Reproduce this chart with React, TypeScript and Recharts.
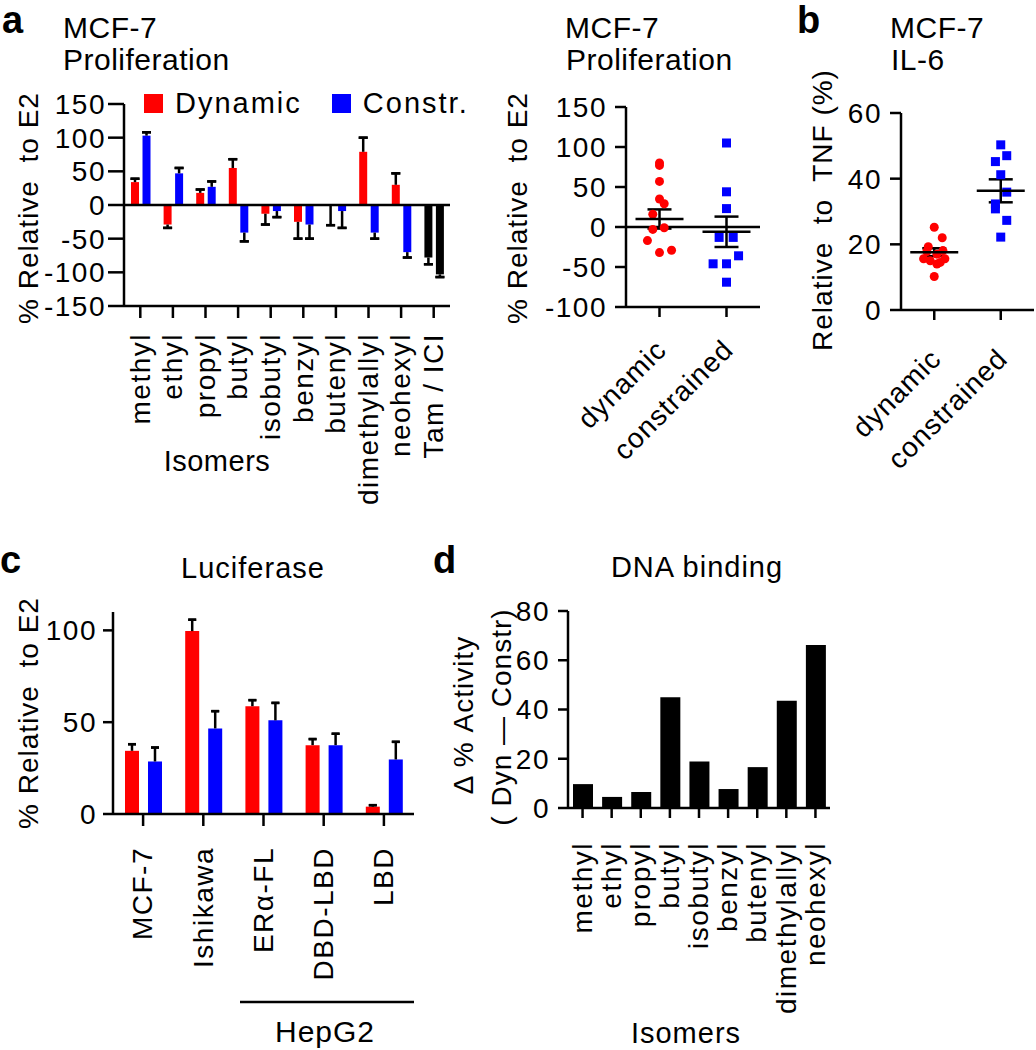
import React from 'react';
import {
  BarChart, Bar, XAxis, YAxis, Cell, ErrorBar, ReferenceLine, Legend,
  ScatterChart, Scatter,
} from 'recharts';

const FONT = "'Liberation Sans', Arial, Helvetica, sans-serif";
const RED = '#ff0000';
const BLUE = '#0000ff';
const BLACK = '#000000';

// a: proliferation per isomer (last group = Tam / ICI controls)
const isomers = ['methyl', 'ethyl', 'propyl', 'butyl', 'isobutyl', 'benzyl', 'butenyl', 'dimethylallyl', 'neohexyl', 'Tam / ICI'];
const prolifDynamic = [34, -29, 18, 55, -13, -25, -1, 79, 30, -78];
const prolifDynamicErr = [5, 5, 5, 13, 16, 25, 29, 21, 17, 10];
const prolifConstr = [103, 47, 27, -41, -9, -29, -9, -41, -70, -103];
const prolifConstrErr = [5, 8, 8, 13, 9, 21, 25, 9, 8, 4];
const prolifTicks = [-150, -100, -50, 0, 50, 100, 150];
const legendOrder = ['Dynamic', 'Constr.'];

// a: pooled proliferation
const groups = ['dynamic', 'constrained'];
const pooledDynamic = [80, 77, 57, 35, 29, 16, -1, -3, -17, -32, -29];
const pooledDynamicJitter = [0, 0, 0, 0, 0.07, -0.1, 0.07, -0.1, -0.18, 0, 0.18];
const pooledConstr = [105, 44, 23, -13, -13, -36, -46, -46, -69];
const pooledConstrJitter = [0, 0, 0, -0.11, 0.1, 0.18, -0.2, 0, 0];
const pooledMean = [10, -6];
const pooledSem = [12, 19];
const pooledTicks = [-100, -50, 0, 50, 100, 150];

// b: IL-6
const il6Dynamic = [25.2, 22, 19.3, 18.1, 17.8, 17, 15.6, 15.6, 15, 14.5, 14, 10.2];
const il6DynamicJitter = [0, 0.12, -0.09, 0.13, -0.11, 0.04, -0.16, 0.16, -0.06, 0.09, 0.04, 0];
const il6Constr = [50.3, 47, 45.2, 41.2, 35.9, 32.3, 30.8, 27.3, 22.2];
const il6ConstrJitter = [0, 0.09, -0.08, 0, 0.09, -0.08, -0.08, 0.09, 0];
const il6Mean = [17.6, 36.3];
const il6Sem = [1.2, 3.5];
const il6Ticks = [0, 20, 40, 60];

// c: luciferase
const lucCells = ['MCF-7', 'Ishikawa', 'ERα-FL', 'DBD-LBD', 'LBD'];
const lucDynamic = [34.4, 99.6, 58.7, 37.5, 4];
const lucDynamicErr = [3.6, 6.2, 3.3, 3.3, 0.8];
const lucConstr = [28.6, 46.6, 51, 37.5, 29.7];
const lucConstrErr = [7.6, 9.4, 9.5, 6.2, 9.6];
const lucTicks = [0, 50, 100];

// d: DNA binding
const dnaIsomers = isomers.slice(0, 9);
const dnaDelta = [9.7, 4.5, 6.5, 45, 18.9, 7.7, 16.6, 43.6, 66.2];
const dnaTicks = [0, 20, 40, 60, 80];

// one-sided error bars: a plain line away from zero, plus a cap at its end
const errLine = (v: number, e: number) => (v >= 0 ? [0, e] : [e, 0]);
const errCap = (v: number, e: number) => (v >= 0 ? [-e, e] : [e, -e]);

const prolifData = isomers.map((name, i) => ({
  name,
  dynamic: prolifDynamic[i],
  dLine: errLine(prolifDynamic[i], prolifDynamicErr[i]),
  dCap: errCap(prolifDynamic[i], prolifDynamicErr[i]),
  constr: prolifConstr[i],
  cLine: errLine(prolifConstr[i], prolifConstrErr[i]),
  cCap: errCap(prolifConstr[i], prolifConstrErr[i]),
}));

const lucData = lucCells.map((name, i) => ({
  name,
  dynamic: lucDynamic[i],
  dLine: errLine(lucDynamic[i], lucDynamicErr[i]),
  dCap: errCap(lucDynamic[i], lucDynamicErr[i]),
  constr: lucConstr[i],
  cLine: errLine(lucConstr[i], lucConstrErr[i]),
  cCap: errCap(lucConstr[i], lucConstrErr[i]),
}));

const dnaData = dnaIsomers.map((name, i) => ({ name, delta: dnaDelta[i] }));

const points = (ys: number[], jitter: number[], group: number) =>
  ys.map((y, i) => ({ x: group + jitter[i], y }));
const means = (m: number[], s: number[]) => m.map((y, i) => ({ x: i + 1, y, sem: s[i] }));

const line = { stroke: BLACK, strokeWidth: 2.5 };
const tickText = { fontSize: 28, fill: BLACK, letterSpacing: 1.5 };

const VerticalTick = ({ x, y, payload, offset }: any) => (
  <text
    x={x} y={y + offset} dy="0.33em" textAnchor="end" fontSize={28} fill={BLACK} letterSpacing={1.5}
    transform={`rotate(-90, ${x}, ${y + offset})`}
  >
    {payload.value}
  </text>
);

const SlantTick = ({ x, y, payload, offset }: any) => (
  <text
    x={x + 2} y={y + offset} dy="0.33em" textAnchor="end" fontSize={28} fill={BLACK} letterSpacing={1}
    transform={`rotate(-45, ${x + 2}, ${y + offset})`}
  >
    {groups[payload.value - 1]}
  </text>
);

const Dot = ({ cx, cy }: any) => <circle cx={cx} cy={cy} r={4.5} fill={RED} />;
const Square = ({ cx, cy }: any) => <rect x={cx - 4.5} y={cy - 4.5} width={9} height={9} fill={BLUE} />;
const MeanLine = ({ cx, cy }: any) => <line x1={cx - 24} x2={cx + 24} y1={cy} y2={cy} {...line} />;

const renderLegend = ({ payload }: any) => {
  const items = [...payload].sort((a: any, b: any) => legendOrder.indexOf(a.value) - legendOrder.indexOf(b.value));
  return (
    <div style={{ display: 'flex', alignItems: 'center', lineHeight: '33px' }}>
      {items.map((p: any) => (
        <div key={p.value} style={{ display: 'flex', alignItems: 'center', marginRight: 30 }}>
          <span style={{ width: 19, height: 19, background: p.color, marginRight: 12 }} />
          <span style={{ fontSize: 29, letterSpacing: 2, color: BLACK }}>{p.value}</span>
        </div>
      ))}
    </div>
  );
};

const barErrors = (lineKey: string, capKey: string, cap: number) => [
  <ErrorBar key="l" dataKey={lineKey} width={0} stroke={BLACK} strokeWidth={2.5} direction="y" />,
  <ErrorBar key="c" dataKey={capKey} width={cap} stroke={BLACK} strokeWidth={2.5} direction="y" />,
];

function ScatterPanel({ left, width, top, yAxisWidth, xAxisHeight, height, right, domain, ticks, red, blue, avg, zero, labelOffset }: any) {
  return (
    <div style={{ position: 'absolute', left, top: 0 }}>
      <ScatterChart width={width} height={height} margin={{ top, right, bottom: 0, left: 0 }}>
        <XAxis
          type="number" dataKey="x" domain={[0.5, 2.5]} ticks={[1, 2]} interval={0}
          height={xAxisHeight} tickSize={10} axisLine={line} tickLine={line}
          tick={(p: any) => <SlantTick {...p} offset={labelOffset} />}
        />
        <YAxis
          type="number" dataKey="y" domain={domain} ticks={ticks} interval={0}
          width={yAxisWidth} tickSize={11} tickMargin={8} axisLine={line} tickLine={line} tick={tickText}
        />
        {zero && <ReferenceLine y={0} {...line} />}
        <Scatter data={red} shape={<Dot />} isAnimationActive={false} />
        <Scatter data={blue} shape={<Square />} isAnimationActive={false} />
        <Scatter data={avg} shape={<MeanLine />} isAnimationActive={false}>
          <ErrorBar dataKey="sem" width={12} stroke={BLACK} strokeWidth={2.5} direction="y" />
        </Scatter>
      </ScatterChart>
    </div>
  );
}

const T = ({ x, y, children, size = 30, anchor = 'start', bold = false, rot = 0, ls = 0.5 }: any) => (
  <text
    x={0} y={0} fontSize={size} textAnchor={anchor} fontWeight={bold ? 'bold' : 'normal'} letterSpacing={ls}
    fill={BLACK} style={{ whiteSpace: 'pre' }}
    transform={`translate(${x},${y})${rot ? ` rotate(${rot})` : ''}`}
  >
    {children}
  </text>
);

export default function App() {
  return (
    <div style={{ position: 'absolute', left: 0, top: 0, width: 1036, height: 1050, background: '#fff', fontFamily: FONT }}>
      {/* a: per-isomer bars */}
      <div style={{ position: 'absolute', left: 0, top: 0 }}>
        <BarChart width={470} height={540} data={prolifData} margin={{ top: 104, right: 20, bottom: 0, left: 0 }} barSize={8} barGap={3.5}>
          <XAxis
            dataKey="name" height={234} tickSize={12} interval={0} axisLine={line} tickLine={line}
            tick={(p: any) => <VerticalTick {...p} offset={13} />}
          />
          <YAxis
            domain={[-150, 150]} ticks={prolifTicks} interval={0} width={124}
            tickSize={16} tickMargin={2} axisLine={line} tickLine={line} tick={tickText}
          />
          <ReferenceLine y={0} {...line} />
          <Bar dataKey="dynamic" name="Dynamic" fill={RED} isAnimationActive={false}>
            {prolifData.map((d, i) => <Cell key={d.name} fill={i === 9 ? BLACK : RED} />)}
            {barErrors('dLine', 'dCap', 4.5)}
          </Bar>
          <Bar dataKey="constr" name="Constr." fill={BLUE} isAnimationActive={false}>
            {prolifData.map((d, i) => <Cell key={d.name} fill={i === 9 ? BLACK : BLUE} />)}
            {barErrors('cLine', 'cCap', 4.5)}
          </Bar>
          <Legend
            content={renderLegend} layout="horizontal" verticalAlign="middle" align="center"
            wrapperStyle={{ top: 87, left: 144, width: 'auto' }}
          />
        </BarChart>
      </div>

      {/* a: pooled scatter */}
      <ScatterPanel
        left={480} width={300} height={540} top={107} right={20} yAxisWidth={146} xAxisHeight={233}
        domain={[-100, 150]} ticks={pooledTicks} zero labelOffset={26}
        red={points(pooledDynamic, pooledDynamicJitter, 1)}
        blue={points(pooledConstr, pooledConstrJitter, 2)}
        avg={means(pooledMean, pooledSem)}
      />

      {/* b: IL-6 scatter */}
      <ScatterPanel
        left={760} width={276} height={540} top={113} right={2} yAxisWidth={141} xAxisHeight={230}
        domain={[0, 60]} ticks={il6Ticks} zero={false} labelOffset={32}
        red={points(il6Dynamic, il6DynamicJitter, 1)}
        blue={points(il6Constr, il6ConstrJitter, 2)}
        avg={means(il6Mean, il6Sem)}
      />

      {/* c: luciferase */}
      <div style={{ position: 'absolute', left: 0, top: 560 }}>
        <BarChart width={440} height={480} data={lucData} margin={{ top: 52, right: 26, bottom: 0, left: 0 }} barSize={14} barGap={9}>
          <XAxis
            dataKey="name" height={226} tickSize={12} interval={0} axisLine={line} tickLine={line}
            tick={(p: any) => <VerticalTick {...p} offset={19} />}
          />
          <YAxis
            domain={[0, 110]} ticks={lucTicks} interval={0} width={113}
            tickSize={10} tickMargin={6} axisLine={line} tickLine={line} tick={tickText}
          />
          <Bar dataKey="dynamic" fill={RED} isAnimationActive={false}>
            {barErrors('dLine', 'dCap', 4)}
          </Bar>
          <Bar dataKey="constr" fill={BLUE} isAnimationActive={false}>
            {barErrors('cLine', 'cCap', 4)}
          </Bar>
        </BarChart>
      </div>

      {/* d: DNA binding */}
      <div style={{ position: 'absolute', left: 440, top: 560 }}>
        <BarChart width={420} height={480} data={dnaData} margin={{ top: 51, right: 30, bottom: 0, left: 0 }} barSize={20}>
          <XAxis
            dataKey="name" height={232} tickSize={10} interval={0} axisLine={line} tickLine={line}
            tick={(p: any) => <VerticalTick {...p} offset={22} />}
          />
          <YAxis
            domain={[0, 80]} ticks={dnaTicks} interval={0} width={128}
            tickSize={10} tickMargin={8} axisLine={line} tickLine={line} tick={tickText}
          />
          <Bar dataKey="delta" fill={BLACK} isAnimationActive={false} />
        </BarChart>
      </div>

      {/* titles and axis labels */}
      <svg width={1036} height={1050} style={{ position: 'absolute', left: 0, top: 0, pointerEvents: 'none', overflow: 'visible' }}>
        <T x={2} y={33} size={38} bold ls={0}>a</T>
        <T x={63} y={37.5}>MCF-7</T>
        <T x={63} y={70}>Proliferation</T>
        <T x={38} y={208} size={28} anchor="middle" rot={-90} ls={1}>{'% Relative  to E2'}</T>
        <T x={217} y={471} size={29} anchor="middle">Isomers</T>

        <T x={565} y={37.5}>MCF-7</T>
        <T x={566} y={70}>Proliferation</T>
        <T x={527} y={208} size={28} anchor="middle" rot={-90} ls={1}>{'% Relative  to E2'}</T>

        <T x={797} y={33} size={38} bold ls={0}>b</T>
        <T x={890} y={37.5}>MCF-7</T>
        <T x={891} y={70}>IL-6</T>
        <T x={832} y={210} size={28} anchor="middle" rot={-90} ls={1}>{'Relative  to  TNF (%)'}</T>

        <T x={0} y={573} size={38} bold ls={0}>c</T>
        <T x={253} y={578} size={29} anchor="middle" ls={1}>Luciferase</T>
        <T x={38} y={713} size={28} anchor="middle" rot={-90} ls={1}>{'% Relative  to E2'}</T>
        <line x1={240} x2={414} y1={1002} y2={1002} stroke={BLACK} strokeWidth={2.5} />
        <T x={325} y={1042} size={30} anchor="middle" ls={1}>HepG2</T>

        <T x={433} y={573} size={38} bold ls={0}>d</T>
        <T x={697} y={577} size={29} anchor="middle" ls={1}>DNA binding</T>
        <T x={473} y={715} size={28} anchor="middle" rot={-90} ls={1}>{'Δ % Activity'}</T>
        <T x={511} y={717} size={28} anchor="middle" rot={-90} ls={1}>{'( Dyn — Constr)'}</T>
        <T x={686} y={1043} size={29} anchor="middle" ls={1}>Isomers</T>
      </svg>
    </div>
  );
}
